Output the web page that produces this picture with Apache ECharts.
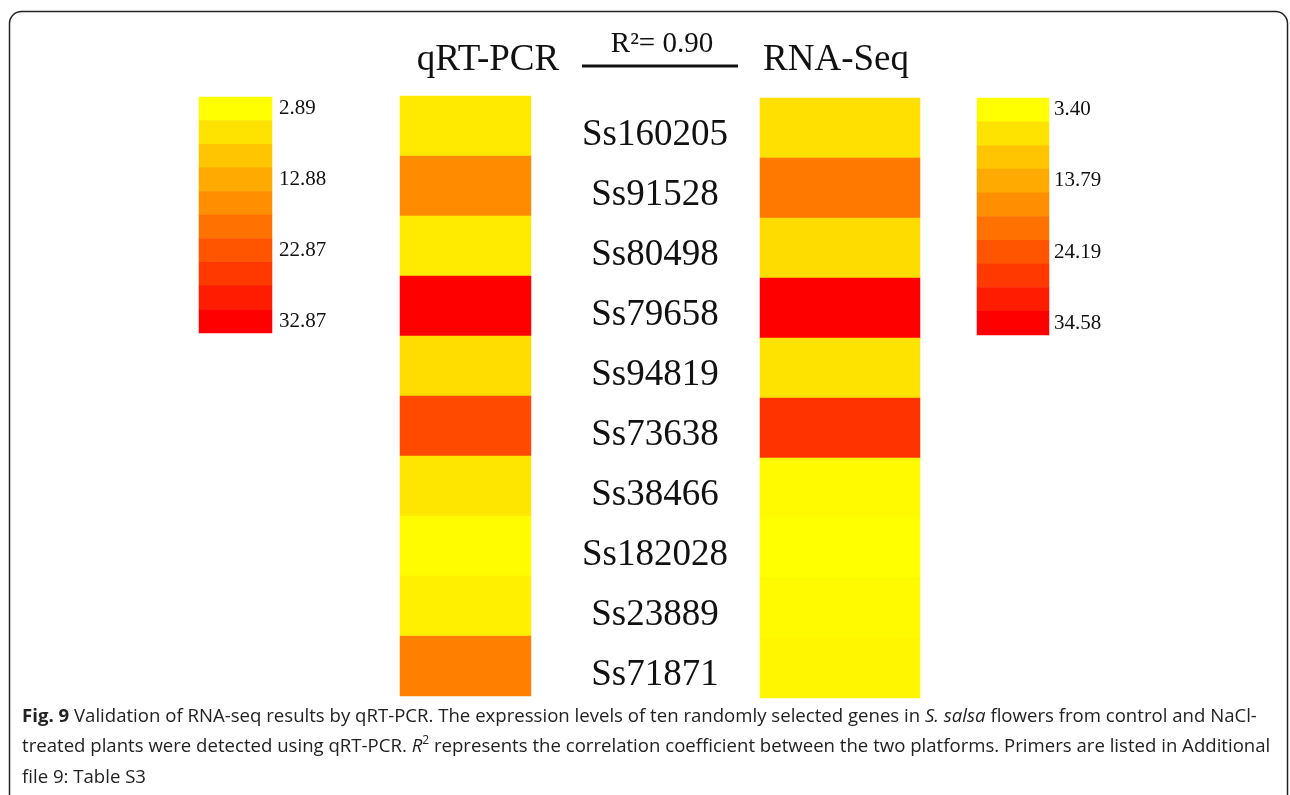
<!DOCTYPE html>
<html>
<head>
<meta charset="utf-8">
<script src="https://cdn.jsdelivr.net/npm/echarts@6/dist/echarts.min.js"></script>
<style>
html,body{margin:0;padding:0;background:#fff;}
#chart{width:1290px;height:795px;}
</style>
</head>
<body>
<div id="chart"></div>
<script>
// ---- data ----
const genes = ['Ss160205','Ss91528','Ss80498','Ss79658','Ss94819','Ss73638','Ss38466','Ss182028','Ss23889','Ss71871'];
const qpcrValues = [5.35, 16.4, 5.2, 32.87, 6.9, 24.2, 5.8, 3.2, 4.7, 17.8];
const rnaseqValues = [7.2, 19.9, 7.7, 34.58, 6.8, 28.4, 4.0, 3.4, 4.0, 4.5];
const qpcrRange = [2.89, 32.87];
const rnaseqRange = [3.40, 34.58];
const qpcrTicks = ['2.89', '12.88', '22.87', '32.87'];
const rnaseqTicks = ['3.40', '13.79', '24.19', '34.58'];
const legendLevels = 10;

function levelData(range) {
  const out = [];
  for (let i = 0; i < legendLevels; i++) {
    out.push([0, i, range[0] + i * (range[1] - range[0]) / (legendLevels - 1)]);
  }
  return out;
}
function colData(vals) { return vals.map((v, i) => [0, i, v]); }
const levelIdx = Array.from({length: legendLevels}, (_, i) => String(i));

const serif = '"Liberation Serif","Times New Roman",serif';
const sans = '"Open Sans", sans-serif';
const colors = ['#ffff00', '#ff0000'];

const chart = echarts.init(document.getElementById('chart'), null, {renderer: 'canvas'});

const hiddenX = (gi) => ({type: 'category', gridIndex: gi, data: ['v'], show: false});

const option = {
  backgroundColor: '#ffffff',
  animation: false,
  grid: [
    {left: 199, top: 97, width: 73, height: 236},
    {left: 400, top: 96, width: 131, height: 600},
    {left: 760, top: 98, width: 160, height: 600},
    {left: 977, top: 98, width: 72, height: 237},
    {left: 760, top: 105, width: 160, height: 600}
  ],
  xAxis: [hiddenX(0), hiddenX(1), hiddenX(2), hiddenX(3), hiddenX(4)],
  yAxis: [
    {type: 'category', gridIndex: 0, data: levelIdx, inverse: true, position: 'right',
     axisLine: {show: false}, axisTick: {show: false},
     axisLabel: {interval: 0, margin: 7, color: '#111', fontFamily: serif, fontSize: 21,
       formatter: (v, i) => (i % 3 === 0 ? qpcrTicks[i / 3] : '')}},
    {type: 'category', gridIndex: 1, data: genes, inverse: true, show: false},
    {type: 'category', gridIndex: 2, data: genes, inverse: true, show: false},
    {type: 'category', gridIndex: 3, data: levelIdx, inverse: true, position: 'right',
     axisLine: {show: false}, axisTick: {show: false},
     axisLabel: {interval: 0, margin: 5, color: '#111', fontFamily: serif, fontSize: 21,
       formatter: (v, i) => (i % 3 === 0 ? rnaseqTicks[i / 3] : '')}},
    {type: 'category', gridIndex: 4, data: genes, inverse: true, position: 'left',
     axisLine: {show: false}, axisTick: {show: false}, splitLine: {show: false},
     axisLabel: {interval: 0, margin: 105, align: 'center', color: '#111', fontFamily: serif,
       fontSize: 37}}
  ],
  visualMap: [
    {type: 'continuous', show: false, seriesIndex: [0, 1], dimension: 2,
     min: qpcrRange[0], max: qpcrRange[1], inRange: {color: colors}},
    {type: 'continuous', show: false, seriesIndex: [2, 3], dimension: 2,
     min: rnaseqRange[0], max: rnaseqRange[1], inRange: {color: colors}}
  ],
  series: [
    {type: 'heatmap', xAxisIndex: 0, yAxisIndex: 0, data: levelData(qpcrRange), emphasis: {disabled: true}},
    {type: 'heatmap', xAxisIndex: 1, yAxisIndex: 1, data: colData(qpcrValues), emphasis: {disabled: true}},
    {type: 'heatmap', xAxisIndex: 2, yAxisIndex: 2, data: colData(rnaseqValues), emphasis: {disabled: true}},
    {type: 'heatmap', xAxisIndex: 3, yAxisIndex: 3, data: levelData(rnaseqRange), emphasis: {disabled: true}}
  ],
  graphic: [
    {type: 'rect', silent: true, shape: {x: 9.5, y: 11.5, width: 1278, height: 820, r: 12},
     style: {fill: 'none', stroke: '#222', lineWidth: 1.5}},
    {type: 'text', x: 488, y: 60, style: {text: 'qRT-PCR', font: '37px ' + serif, fill: '#111',
     textAlign: 'center', textVerticalAlign: 'middle'}},
    {type: 'text', x: 836, y: 60, style: {text: 'RNA-Seq', font: '37px ' + serif, fill: '#111',
     textAlign: 'center', textVerticalAlign: 'middle'}},
    {type: 'text', x: 662, y: 44, style: {text: 'R\u00B2= 0.90', font: '29px ' + serif, fill: '#111',
     textAlign: 'center', textVerticalAlign: 'middle'}},
    {type: 'line', shape: {x1: 582, y1: 66, x2: 738, y2: 66}, style: {stroke: '#111', lineWidth: 3}},
    {type: 'text', x: 22, y: 701, style: {
      text: '{b|Fig. 9} Validation of RNA-seq results by qRT-PCR. The expression levels of ten randomly selected genes in {i|S. salsa} flowers from control and NaCl-\n' +
            'treated plants were detected using qRT-PCR. {i|R}{s|2} represents the correlation coefficient between the two platforms. Primers are listed in Additional\n' +
            'file {l|9}: Table S3',
      font: '18.6px ' + sans, fill: '#222', lineHeight: 30.5,
      rich: {
        b: {fontWeight: 'bold', fontFamily: sans, fontSize: 18.6, lineHeight: 30.5},
        i: {fontStyle: 'italic', fontFamily: sans, fontSize: 18.6, lineHeight: 30.5},
        s: {fontFamily: sans, fontSize: 12, lineHeight: 30.5, padding: [0, 0, 12, 0]},
        l: {fontFamily: sans, fontSize: 18.6, color: '#1a3fd6', lineHeight: 30.5}
      }
    }}
  ]
};
chart.setOption(option);
</script>
</body>
</html>
